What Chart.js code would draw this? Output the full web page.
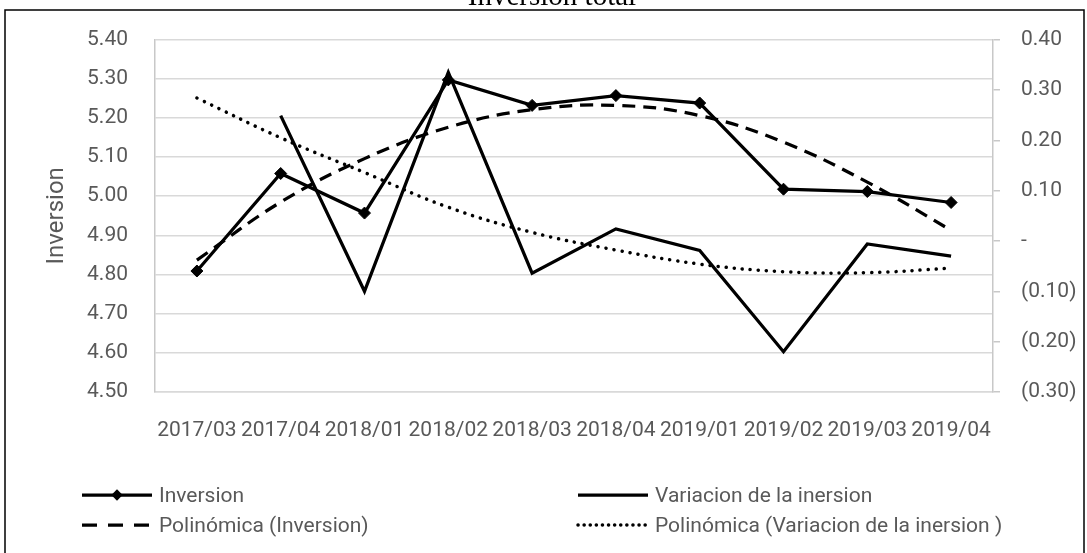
<!DOCTYPE html>
<html>
<head>
<meta charset="utf-8">
<title>Inversion total</title>
<script src="https://cdn.jsdelivr.net/npm/chart.js@4.4.1/dist/chart.umd.min.js"></script>
<style>
  html, body { margin: 0; padding: 0; background: #fff; }
  #wrap { width: 1087px; height: 553px; }
</style>
</head>
<body>
<div id="wrap"><canvas id="chart-inversion" width="1087" height="553"></canvas></div>
<script>
// datos
const categorias = ['2017/03', '2017/04', '2018/01', '2018/02', '2018/03', '2018/04', '2019/01', '2019/02', '2019/03', '2019/04'];
const inversion = [4.809, 5.058, 4.957, 5.297, 5.232, 5.257, 5.238, 5.018, 5.012, 4.984];
const variacion = [null, 0.249, -0.100, 0.335, -0.064, 0.024, -0.019, -0.220, -0.006, -0.030];
const tendenciaInversion = [4.837, 4.985, 5.096, 5.176, 5.221, 5.232, 5.206, 5.138, 5.036, 4.913];
const tendenciaVariacion = [0.284, 0.205, 0.136, 0.067, 0.017, -0.018, -0.046, -0.061, -0.063, -0.054];
const ejeIzq = { min: 4.5, max: 5.4, paso: 0.1 };
const ejeDer = { min: -0.3, max: 0.4, paso: 0.1 };

const GRIS_TEXTO = '#595959';
const FUENTE = 'Roboto, "Liberation Sans", sans-serif';

function formatoContable(v) {
  if (Math.abs(v) < 1e-9) return '-';
  const s = Math.abs(v).toFixed(2);
  return v < 0 ? `(${s})` : s;
}

// marco, titulo y leyenda dibujados a mano para calcar la posicion
const decorado = {
  id: 'decorado',
  afterDraw(chart) {
    const ctx = chart.ctx;
    ctx.save();

    ctx.fillStyle = '#000';
    ctx.font = '29px "Liberation Serif", serif';
    ctx.textAlign = 'center';
    ctx.textBaseline = 'alphabetic';
    ctx.fillText('Inversion total', 552, 5);

    ctx.strokeStyle = '#000';
    ctx.lineWidth = 1.5;
    ctx.strokeRect(5, 10, 1079, 600);

    const filas = [
      { ds: 0, x: 82, y: 495 },
      { ds: 1, x: 578, y: 495 },
      { ds: 2, x: 82, y: 525 },
      { ds: 3, x: 578, y: 525 }
    ];
    ctx.textAlign = 'left';
    ctx.font = `21px ${FUENTE}`;
    filas.forEach(f => {
      const d = chart.data.datasets[f.ds];
      ctx.save();
      ctx.strokeStyle = d.borderColor;
      ctx.lineWidth = d.borderWidth;
      ctx.lineCap = d.borderCapStyle || 'butt';
      ctx.setLineDash(d.legendDash || []);
      ctx.beginPath();
      ctx.moveTo(f.x, f.y);
      ctx.lineTo(f.x + 70, f.y);
      ctx.stroke();
      ctx.restore();
      if (d.pointRadius > 0) {
        ctx.save();
        ctx.fillStyle = '#000';
        ctx.translate(f.x + 35, f.y);
        ctx.rotate(Math.PI / 4);
        ctx.fillRect(-4, -4, 8, 8);
        ctx.restore();
      }
      ctx.fillStyle = GRIS_TEXTO;
      ctx.fillText(d.label, f.x + 77, f.y + 7);
    });
    ctx.restore();
  }
};

new Chart(document.getElementById('chart-inversion'), {
  type: 'line',
  data: {
    labels: categorias,
    datasets: [
      {
        label: 'Inversion',
        data: inversion,
        yAxisID: 'y',
        borderColor: '#000',
        backgroundColor: '#000',
        borderWidth: 3.25,
        pointStyle: 'rectRot',
        pointRadius: 6,
        pointBorderWidth: 1,
        tension: 0
      },
      {
        label: 'Variacion de la inersion',
        data: variacion,
        yAxisID: 'y2',
        borderColor: '#000',
        borderWidth: 3.25,
        pointRadius: 0,
        tension: 0
      },
      {
        label: 'Polinómica (Inversion)',
        data: tendenciaInversion,
        yAxisID: 'y',
        borderColor: '#000',
        borderWidth: 3.25,
        borderDash: [13, 8],
        legendDash: [15, 11],
        pointRadius: 0,
        tension: 0.4
      },
      {
        label: 'Polinómica (Variacion de la inersion )',
        data: tendenciaVariacion,
        yAxisID: 'y2',
        borderColor: '#000',
        borderWidth: 3.5,
        borderDash: [0.1, 8],
        legendDash: [0.1, 6],
        borderCapStyle: 'round',
        pointRadius: 0,
        tension: 0.4
      }
    ]
  },
  options: {
    responsive: false,
    animation: false,
    devicePixelRatio: 1,
    layout: { padding: { top: 39, left: 0, right: 0, bottom: 0 } },
    plugins: {
      legend: { display: false },
      title: { display: false },
      tooltip: { enabled: false }
    },
    scales: {
      x: {
        offset: true,
        grid: { display: false },
        border: { display: true, color: '#d9d9d9', width: 1.5 },
        ticks: {
          autoSkip: false, maxRotation: 0, minRotation: 0, padding: 18,
          color: GRIS_TEXTO, font: { family: FUENTE, size: 21 }
        },
        afterFit: s => { s.height = 161; }
      },
      y: {
        position: 'left',
        min: ejeIzq.min,
        max: ejeIzq.max,
        grid: { color: '#d9d9d9', lineWidth: 1.5, drawTicks: false },
        border: { display: true, color: '#c8c8c8', width: 1.5 },
        ticks: {
          stepSize: ejeIzq.paso, padding: 27,
          color: GRIS_TEXTO, font: { family: FUENTE, size: 21 },
          callback: v => v.toFixed(2)
        },
        title: {
          display: true, text: 'Inversion', color: GRIS_TEXTO,
          font: { family: FUENTE, size: 24 }, padding: { top: 43, bottom: 0 }
        },
        afterFit: s => { s.width = 155; }
      },
      y2: {
        position: 'right',
        min: ejeDer.min,
        max: ejeDer.max,
        grid: { drawOnChartArea: false, color: '#c8c8c8', lineWidth: 1.5, tickLength: 7 },
        border: { display: true, color: '#c8c8c8', width: 1.5 },
        ticks: {
          stepSize: ejeDer.paso, padding: 21,
          color: GRIS_TEXTO, font: { family: FUENTE, size: 21 },
          callback: v => formatoContable(v)
        },
        afterFit: s => { s.width = 94; }
      }
    }
  },
  plugins: [decorado]
});
</script>
</body>
</html>
